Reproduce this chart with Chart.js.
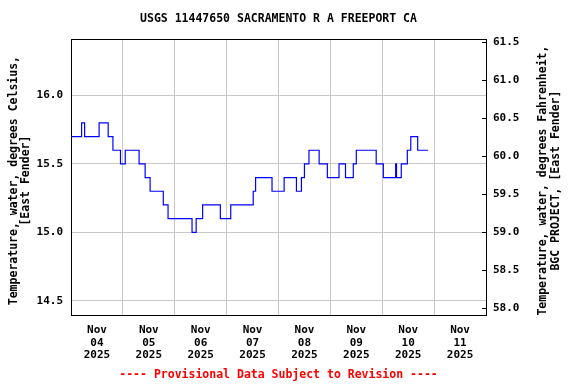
<!DOCTYPE html>
<html>
<head>
<meta charset="utf-8">
<title>USGS 11447650</title>
<script src="https://cdn.jsdelivr.net/npm/chart.js@4.4.1/dist/chart.umd.min.js"></script>
<style>
    html, body { margin: 0; padding: 0; background: #fff; }
</style>
</head>
<body>
<canvas id="tempChart" width="576" height="384"></canvas>
<script>
// hours since Nov 04 2025 00:00 where the reading changes, and the reading from then on
var changeHours = [0, 4.9, 6.3, 13.0, 17.2, 19.4, 22.9, 25.1, 31.5, 34.3, 36.6, 42.7, 44.9, 56.0, 57.9, 60.9, 69.1, 73.9, 84.3, 85.4,
    93.0, 98.6, 104.3, 106.6, 108.0, 110.1, 114.8, 118.6, 124.0, 127.0, 130.6, 132.0, 141.2, 144.5, 150.2, 150.6, 152.8, 155.6, 157.2, 160.4, 165.1];
var tempC = [15.7, 15.8, 15.7, 15.8, 15.7, 15.6, 15.5, 15.6, 15.5, 15.4, 15.3, 15.2, 15.1, 15.0, 15.1, 15.2, 15.1, 15.2, 15.3, 15.4,
    15.3, 15.4, 15.3, 15.4, 15.5, 15.6, 15.5, 15.4, 15.5, 15.4, 15.5, 15.6, 15.5, 15.4, 15.5, 15.4, 15.5, 15.6, 15.7, 15.6, 15.6];

var dayLabels = ['04', '05', '06', '07', '08', '09', '10', '11'];
var monthLabel = 'Nov';
var yearLabel = '2025';
var celsiusTicks = [14.5, 15.0, 15.5, 16.0];
var fahrenheitTicks = [58.0, 58.5, 59.0, 59.5, 60.0, 60.5, 61.0, 61.5];
var celsiusRange = [14.39, 16.41];

var chartTitle = 'USGS 11447650 SACRAMENTO R A FREEPORT CA';
var leftTitle = ['Temperature, water, degrees Celsius,', '[East Fender]'];
var rightTitle = ['Temperature, water, degrees Fahrenheit,', 'BGC PROJECT, [East Fender]'];
var footNote = '---- Provisional Data Subject to Revision ----';

function toF(c) {
    return c * 1.8 + 32;
}

var points = changeHours.map(function (h, i) {
    return { x: h, y: tempC[i] };
});

// title and footnote centred over the plot, side titles read bottom to top
var chartTexts = {
    id: 'chartTexts',
    afterDraw: function (chart) {
        var ctx = chart.ctx;
        var area = chart.chartArea;
        var midX = (area.left + area.right) / 2;
        var midY = (area.top + area.bottom) / 2 + 3;
        ctx.save();
        ctx.font = 'bold 11.5px "DejaVu Sans Mono"';
        ctx.textAlign = 'center';
        ctx.textBaseline = 'middle';
        ctx.fillStyle = '#000';
        ctx.fillText(chartTitle, midX, 19);
        ctx.fillStyle = '#ff0000';
        ctx.fillText(footNote, midX, 375);
        ctx.fillStyle = '#000';
        var spots = [[leftTitle[0], 14], [leftTitle[1], 26], [rightTitle[0], 543], [rightTitle[1], 556]];
        spots.forEach(function (s) {
            ctx.save();
            ctx.translate(s[1], midY);
            ctx.rotate(-Math.PI / 2);
            ctx.fillText(s[0], 0, 0);
            ctx.restore();
        });
        ctx.restore();
    }
};

Chart.defaults.font.family = '"DejaVu Sans Mono", monospace';
Chart.defaults.font.weight = 'bold';
Chart.defaults.color = '#000';

var ctx = document.getElementById('tempChart');
new Chart(ctx, {
    type: 'line',
    data: {
        datasets: [{
            data: points,
            stepped: true,
            borderColor: '#0000ff',
            borderWidth: 1.2,
            pointRadius: 0,
            fill: false
        }]
    },
    options: {
        responsive: false,
        animation: false,
        devicePixelRatio: 1,
        layout: { padding: { top: 39.5, bottom: 0, left: 0, right: 0 } },
        plugins: {
            legend: { display: false },
            tooltip: { enabled: false },
            title: { display: false }
        },
        scales: {
            x: {
                type: 'linear',
                position: 'bottom',
                min: 0,
                max: 192,
                afterFit: function (s) { s.height = 68.3; },
                ticks: {
                    stepSize: 12,
                    autoSkip: false,
                    maxRotation: 0,
                    padding: 8,
                    font: { size: 11, lineHeight: 1.16 },
                    callback: function (v) {
                        if (v % 24 !== 12) return '';
                        return [monthLabel, dayLabels[(v - 12) / 24], yearLabel];
                    }
                },
                grid: {
                    drawTicks: false,
                    color: function (c) {
                        return c.tick && c.tick.value % 24 === 0 ? '#c8c8c8' : 'rgba(0,0,0,0)';
                    }
                },
                border: { color: '#000', width: 1 }
            },
            xTop: {
                type: 'linear',
                position: 'top',
                min: 0,
                max: 192,
                afterFit: function (s) { s.height = 0; },
                ticks: { display: false },
                grid: { display: false, drawTicks: false },
                border: { display: true, color: '#000', width: 1 }
            },
            y: {
                type: 'linear',
                position: 'left',
                min: celsiusRange[0],
                max: celsiusRange[1],
                afterFit: function (s) { s.width = 71; },
                afterBuildTicks: function (s) {
                    s.ticks = celsiusTicks.map(function (v) { return { value: v }; });
                },
                ticks: {
                    padding: 8,
                    font: { size: 11 },
                    callback: function (v) { return v.toFixed(1); }
                },
                grid: { color: '#c8c8c8', drawTicks: false },
                border: { color: '#000', width: 1 }
            },
            yF: {
                type: 'linear',
                position: 'right',
                min: toF(celsiusRange[0]),
                max: toF(celsiusRange[1]),
                afterFit: function (s) { s.width = 90; },
                afterBuildTicks: function (s) {
                    s.ticks = fahrenheitTicks.map(function (v) { return { value: v }; });
                },
                ticks: {
                    padding: 11,
                    font: { size: 11 },
                    callback: function (v) { return v.toFixed(1); }
                },
                grid: { drawOnChartArea: false, color: '#000', tickLength: -4 },
                border: { color: '#000', width: 1 }
            }
        }
    },
    plugins: [chartTexts]
});
</script>
</body>
</html>
